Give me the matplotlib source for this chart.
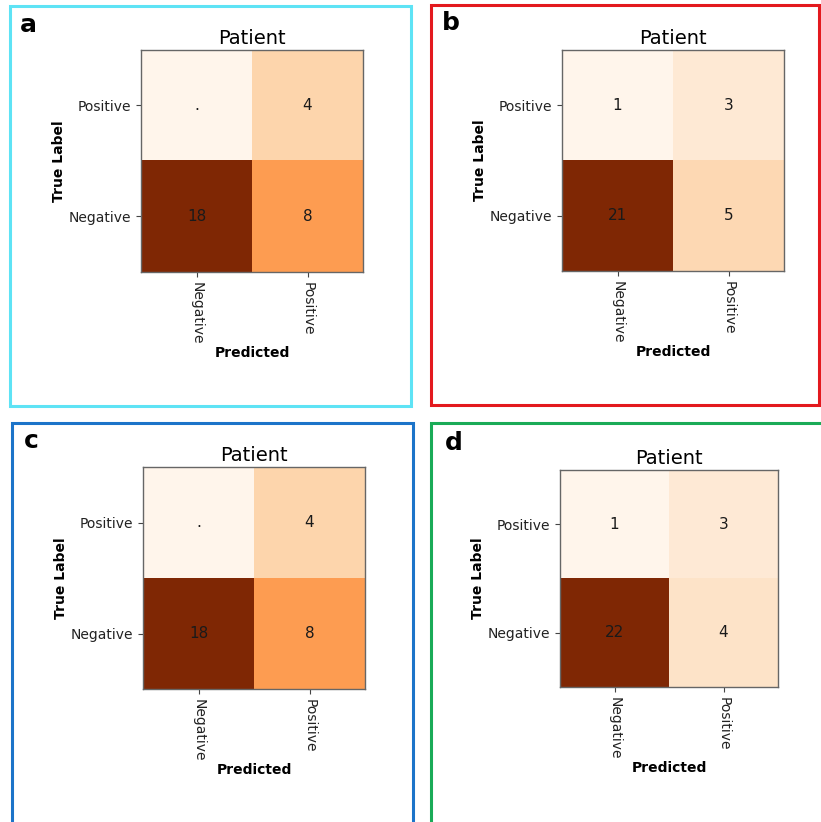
import matplotlib
matplotlib.use("Agg")
import matplotlib.pyplot as plt
import matplotlib.patches as patches
import numpy as np

W, H = 821, 822
classes = ["Negative", "Positive"]
panel_letters = ["a", "b", "c", "d"]
# displayed matrix: top row = true Positive, bottom row = true Negative; columns = predicted Negative, Positive
cm_a = [[0, 4], [18, 8]]
cm_b = [[1, 3], [21, 5]]
cm_c = [[0, 4], [18, 8]]
cm_d = [[1, 3], [22, 4]]
ann_a = [[".", "4"], ["18", "8"]]
ann_b = [["1", "3"], ["21", "5"]]
ann_c = [[".", "4"], ["18", "8"]]
ann_d = [["1", "3"], ["22", "4"]]
row_labels = ["Positive", "Negative"]
border_colors = ["#5ee3f5", "#e3191e", "#1c74c9", "#1aab57"]

mats = [cm_a, cm_b, cm_c, cm_d]
anns = [ann_a, ann_b, ann_c, ann_d]

# pixel boxes (left, top, right, bottom)
axes_px = [(141, 50, 363, 272), (562, 50, 784, 271), (143, 467, 365, 689), (560, 470, 778, 687)]
border_px = [(10, 6, 411, 406), (431, 5, 819, 405), (12, 423, 413, 830), (431, 423, 830, 830)]
letter_px = [(20, 25), (442, 23), (24, 441), (445, 443)]

fig = plt.figure(figsize=(W / 100, H / 100), dpi=100)

def fx(x):
    return x / W

def fy(y):
    return 1 - y / H

for i in range(4):
    l, t, r, b = axes_px[i]
    ax = fig.add_axes([fx(l), fy(b), fx(r) - fx(l), fy(t) - fy(b)])
    m = np.array(mats[i], dtype=float)
    ax.imshow(m, cmap="Oranges", aspect="auto")
    for rr in range(2):
        for cc in range(2):
            ax.text(cc, rr, anns[i][rr][cc], ha="center", va="center", fontsize=11, color="#1a1a1a")
    ax.set_xticks([0, 1])
    ax.set_xticklabels(classes, rotation=-90, fontsize=10, color="#222222")
    ax.set_yticks([0, 1])
    ax.set_yticklabels(row_labels, fontsize=10, color="#222222")
    ax.set_title("Patient", fontsize=14, pad=4)
    ax.set_xlabel("Predicted", fontsize=10, fontweight="bold", labelpad=1)
    ax.set_ylabel("True Label", fontsize=10, fontweight="bold", labelpad=2)
    for s in ax.spines.values():
        s.set_color("#666666")
        s.set_linewidth(1.0)
    ax.tick_params(length=3.5, width=0.8, color="#444444")

    bl, bt, br, bb = border_px[i]
    rect = patches.Rectangle((fx(bl), fy(bb)), fx(br) - fx(bl), fy(bt) - fy(bb),
                             transform=fig.transFigure, fill=False,
                             edgecolor=border_colors[i], linewidth=2.2, clip_on=False)
    fig.add_artist(rect)
    lx, ly = letter_px[i]
    fig.text(fx(lx), fy(ly), panel_letters[i], fontsize=18, fontweight="bold",
             ha="left", va="center")

fig.savefig("out.png", dpi=100)
